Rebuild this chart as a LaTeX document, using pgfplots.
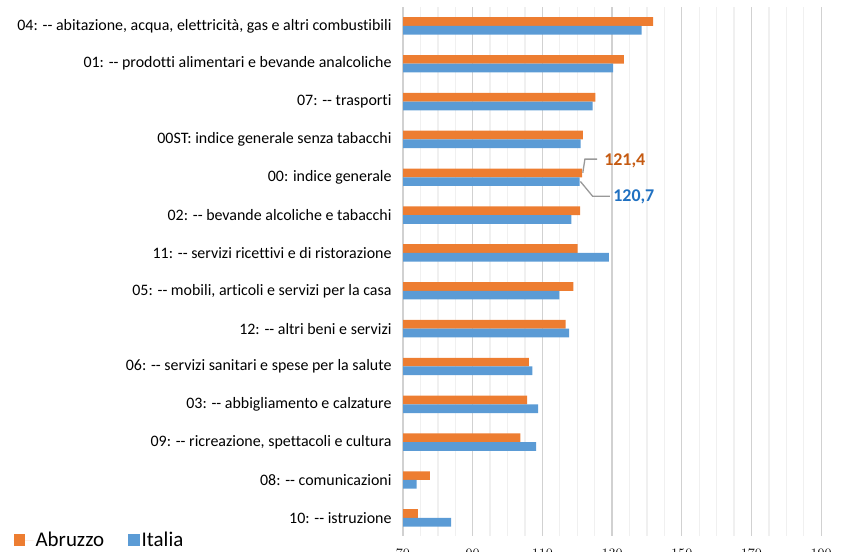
\documentclass[border=0pt]{standalone}
\usepackage{pgfplots}
\pgfplotsset{compat=1.18}
\usepackage{fontspec}
\setmainfont{Carlito}[Ligatures={TeXOff,NoCommon}]
\definecolor{orng}{HTML}{ED7D31}
\definecolor{blu}{HTML}{5B9BD5}
\definecolor{orngtxt}{HTML}{C55A11}
\definecolor{blutxt}{HTML}{1F70C1}
\pgfplotstableread{
idx A I
0 74.3 83.8
1 77.7 73.9
2 103.7 108.2
3 105.6 108.8
4 106.1 107.1
5 116.7 117.7
6 118.9 114.9
7 120.1 129.1
8 120.8 118.3
9 121.4 120.7
10 121.6 121.0
11 125.2 124.4
12 133.4 130.3
13 141.8 138.5
}\datatab
\begin{document}
\begin{tikzpicture}[x=1bp,y=1bp]
\begin{axis}[
  at={(403bp,16bp)}, anchor=south west,
  width=453bp, height=529bp, scale only axis,
  xmin=70, xmax=200, ymin=-0.48, ymax=13.5,
  xtick={70,90,...,190}, minor x tick num=3,
  xmajorgrids, xminorgrids,
  major grid style={color=black!18, line width=1.3bp},
  minor grid style={color=black!6, line width=1.3bp},
  axis line style={draw=none},
  major tick length=0pt, minor tick length=0pt,
  xticklabel style={font=\fontsize{15.5}{17}\selectfont, yshift=-10bp},
  ytick={0,...,13},
  yticklabels={
    {10: -- istruzione},
    {08: -- comunicazioni},
    {09: -- ricreazione, spettacoli e cultura},
    {03: -- abbigliamento e calzature},
    {06: -- servizi sanitari e spese per la salute},
    {12: -- altri beni e servizi},
    {05: -- mobili, articoli e servizi per la casa},
    {11: -- servizi ricettivi e di ristorazione},
    {02: -- bevande alcoliche e tabacchi},
    {00: indice generale},
    {00ST: indice generale senza tabacchi},
    {07: -- trasporti},
    {01: -- prodotti alimentari e bevande analcoliche},
    {04: -- abitazione, acqua, elettricità, gas e altri combustibili}},
  yticklabel style={font=\fontsize{16}{18}\selectfont, xshift=-8bp},
  xbar, bar width=0.23,
  legend columns=2,
  legend style={at={(rel axis cs:-0.860,-0.008)}, anchor=west, draw=none, fill=none,
    font=\fontsize{21}{23}\selectfont, inner sep=0pt,
    /tikz/every even column/.append style={column sep=22bp}},
  clip=true,
]
\addplot[fill=orng, draw=none, bar shift=0.115,
  legend image code/.code={\fill[orng] (0bp,-5.8bp) rectangle (11.6bp,5.8bp); \path (0bp,0bp)--(20bp,0bp);}]
  table[x=A, y=idx] {\datatab};
\addlegendentry{Abruzzo}
\addplot[fill=blu, draw=none, bar shift=-0.115,
  legend image code/.code={\fill[blu] (0bp,-5.8bp) rectangle (11.6bp,5.8bp);}]
  table[x=I, y=idx] {\datatab};
\addlegendentry{Italia}
\draw[black!40, line width=1.3bp] (axis cs:121.6,9.12) -- (axis cs:122.2,9.48) -- (axis cs:125.7,9.48);
\draw[black!40, line width=1.3bp] (axis cs:120.9,8.89) -- (axis cs:124.4,8.50) -- (axis cs:129.4,8.50);
\node[anchor=west, inner sep=0pt, font=\fontsize{18}{20}\selectfont\bfseries, text=orngtxt] at (axis cs:127.7,9.43) {121,4};
\node[anchor=west, inner sep=0pt, font=\fontsize{18}{20}\selectfont\bfseries, text=blutxt] at (axis cs:130.3,8.48) {120,7};
\end{axis}
\pgfresetboundingbox
\useasboundingbox (0,0) rectangle (854,552);
\end{tikzpicture}
\end{document}
